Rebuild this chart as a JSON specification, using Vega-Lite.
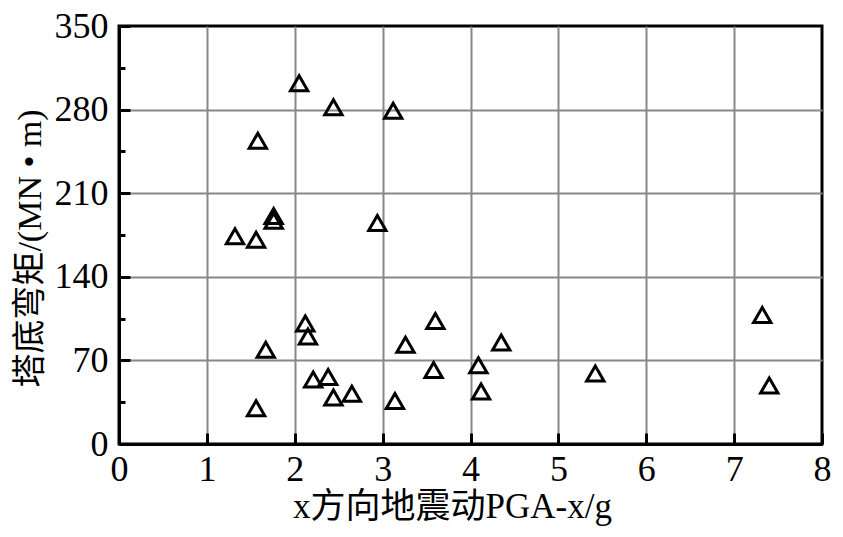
{
  "$schema": "https://vega.github.io/schema/vega-lite/v6.json",
  "width": 703,
  "height": 418,
  "autosize": "none",
  "padding": {"left": 119, "top": 26, "right": 21, "bottom": 93},
  "background": "white",
  "config": {
    "view": {"stroke": "black", "strokeWidth": 3},
    "font": "Liberation Serif, Noto Sans CJK SC"
  },
  "data": {
    "values": [
      {"pga": 2.05, "moment": 302},
      {"pga": 2.44, "moment": 282},
      {"pga": 3.12, "moment": 279},
      {"pga": 1.58, "moment": 254},
      {"pga": 1.32, "moment": 174},
      {"pga": 1.56, "moment": 171},
      {"pga": 1.76, "moment": 191},
      {"pga": 1.76, "moment": 187},
      {"pga": 2.94, "moment": 185},
      {"pga": 2.12, "moment": 101},
      {"pga": 2.15, "moment": 90},
      {"pga": 1.67, "moment": 79},
      {"pga": 1.56, "moment": 30},
      {"pga": 2.21, "moment": 54},
      {"pga": 2.38, "moment": 56},
      {"pga": 2.44, "moment": 39},
      {"pga": 2.65, "moment": 42},
      {"pga": 3.14, "moment": 36},
      {"pga": 3.26, "moment": 83},
      {"pga": 3.6, "moment": 103},
      {"pga": 3.58, "moment": 62},
      {"pga": 4.09, "moment": 66},
      {"pga": 4.12, "moment": 44},
      {"pga": 4.35, "moment": 85},
      {"pga": 5.42, "moment": 59},
      {"pga": 7.32, "moment": 108},
      {"pga": 7.4, "moment": 49}
    ]
  },
  "mark": {
    "type": "point",
    "shape": "triangle-up",
    "filled": false,
    "stroke": "black",
    "strokeWidth": 3,
    "size": 300,
    "opacity": 1
  },
  "encoding": {
    "x": {
      "field": "pga",
      "type": "quantitative",
      "scale": {"domain": [0, 8], "nice": false},
      "axis": {
        "values": [0, 0.5, 1, 1.5, 2, 2.5, 3, 3.5, 4, 4.5, 5, 5.5, 6, 6.5, 7, 7.5, 8],
        "format": "d",
        "labelExpr": "datum.value % 1 == 0 ? datum.label : ''",
        "grid": true,
        "gridColor": "#888888",
        "gridWidth": 2,
        "gridOpacity": {"condition": {"test": "datum.value % 1 != 0 || datum.value == 0 || datum.value == 8", "value": 0}, "value": 1},
        "tickSize": {"condition": {"test": "datum.value % 1 != 0", "value": -6}, "value": -11},
        "tickColor": "black",
        "tickWidth": 3,
        "domainColor": "black",
        "domainWidth": 3,
        "labelFontSize": 36,
        "labelColor": "black",
        "labelPadding": 19,
        "labelFlush": false,
        "labelOverlap": false,
        "title": "x方向地震动PGA-x/g",
        "titleFontSize": 35,
        "titleFontWeight": "normal",
        "titleColor": "black",
        "titlePadding": 2,
        "titleX": 333
      }
    },
    "y": {
      "field": "moment",
      "type": "quantitative",
      "scale": {"domain": [0, 350], "nice": false},
      "axis": {
        "values": [0, 35, 70, 105, 140, 175, 210, 245, 280, 315, 350],
        "labelExpr": "datum.value % 70 == 0 ? datum.label : ''",
        "grid": true,
        "gridColor": "#888888",
        "gridWidth": 2,
        "gridOpacity": {"condition": {"test": "datum.value % 70 != 0 || datum.value == 0 || datum.value == 350", "value": 0}, "value": 1},
        "tickSize": {"condition": {"test": "datum.value % 70 != 0", "value": -6}, "value": -11},
        "tickColor": "black",
        "tickWidth": 3,
        "domainColor": "black",
        "domainWidth": 3,
        "labelFontSize": 36,
        "labelColor": "black",
        "labelPadding": 22,
        "labelFlush": false,
        "labelOverlap": false,
        "title": "塔底弯矩/(MN • m)",
        "titleFontSize": 34,
        "titleFontWeight": "normal",
        "titleColor": "black",
        "titlePadding": 7,
        "titleY": 222
      }
    }
  }
}
